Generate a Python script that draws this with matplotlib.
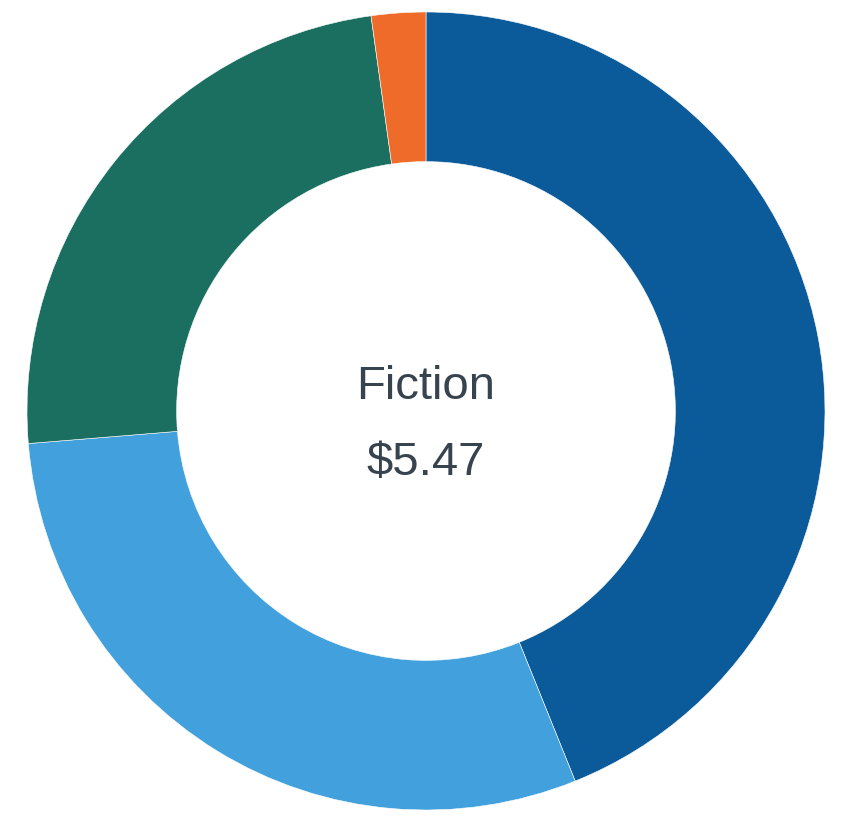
import matplotlib.pyplot as plt

# slice shares, clockwise from 12 o'clock
labels = ["Fiction", "Non-fiction", "Children", "Other"]
shares = [43.9, 29.8, 24.1, 2.2]
colors = ["#0b5a9a", "#42a1dd", "#1b6f60", "#ef6b2a"]

center_label = "Fiction"
center_value = "$5.47"

fig = plt.figure(figsize=(8.6, 8.32), dpi=100)
ax = fig.add_axes([0, 0, 1, 1])

ax.pie(shares, colors=colors, startangle=90, counterclock=False, radius=1,
       wedgeprops=dict(width=0.375, edgecolor="white", linewidth=0.4))

ax.text(0, 0.06, center_label, ha="center", va="center", fontsize=34,
        color="#37434f", family=["Liberation Sans", "DejaVu Sans"])
ax.text(0, -0.13, center_value, ha="center", va="center", fontsize=34,
        color="#37434f", family=["Liberation Sans", "DejaVu Sans"])

ax.set_xlim(-426 / 399, (860 - 426) / 399)
ax.set_ylim(-421 / 399, 411 / 399)
ax.set_aspect("auto")
ax.axis("off")

fig.savefig("out.png", dpi=100)
